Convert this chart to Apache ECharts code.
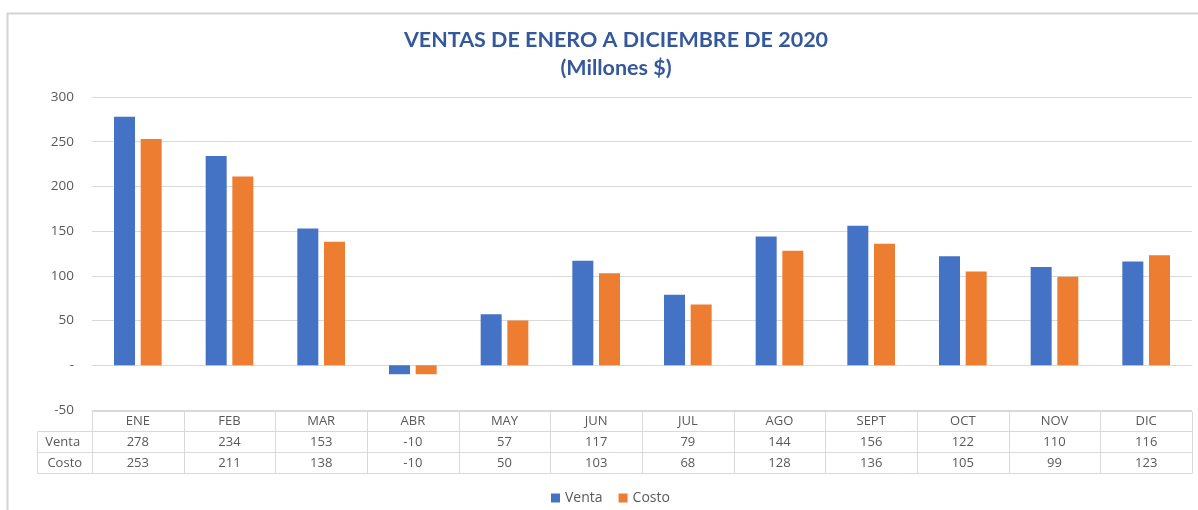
<!DOCTYPE html>
<html>
<head>
<meta charset="utf-8">
<script src="https://cdn.jsdelivr.net/npm/echarts@6/dist/echarts.min.js"></script>
<style>
html, body { margin: 0; padding: 0; background: #fff; }
#chart { width: 1198px; height: 510px; }
</style>
</head>
<body>
<div id="chart"></div>
<script>
// datos
const meses = ['ENE', 'FEB', 'MAR', 'ABR', 'MAY', 'JUN', 'JUL', 'AGO', 'SEPT', 'OCT', 'NOV', 'DIC'];
const venta = [278, 234, 153, -10, 57, 117, 79, 144, 156, 122, 110, 116];
const costo = [253, 211, 138, -10, 50, 103, 68, 128, 136, 105, 99, 123];
const serieNombres = ['Venta', 'Costo'];

(function() {
    let chartDom = document.getElementById('chart');
    let myChart = echarts.init(chartDom);
    let lineColor = '#d9d9d9';
    let textColor = '#595959';
    let font = '"Open Sans", sans-serif';

    let option = {
        animation: false,
        color: ['#4472c4', '#ed7d31'],
        title: {
            text: 'VENTAS DE ENERO A DICIEMBRE DE 2020\n(Millones $)',
            left: 611,
            textAlign: 'center',
            top: 21,
            textStyle: {
                fontFamily: 'Lato, sans-serif',
                fontWeight: 'bold',
                fontSize: 21.5,
                lineHeight: 28,
                color: '#34589e'
            }
        },
        legend: {
            data: serieNombres,
            top: 486,
            left: 546,
            icon: 'rect',
            itemWidth: 9,
            itemHeight: 9,
            itemGap: 16,
            textStyle: { fontFamily: font, fontSize: 14, color: textColor }
        },
        grid: {
            left: 92,
            right: 6,
            top: 97,
            bottom: 100
        },
        xAxis: {
            type: 'category',
            data: meses,
            axisLine: { show: true, onZero: true, lineStyle: { color: lineColor } },
            axisTick: { show: false },
            axisLabel: { show: false }
        },
        yAxis: {
            type: 'value',
            min: -50,
            max: 300,
            interval: 50,
            axisLine: { show: false },
            axisTick: { show: false },
            splitLine: { lineStyle: { color: lineColor } },
            axisLabel: {
                margin: 18,
                fontFamily: font,
                fontSize: 13.5,
                color: textColor,
                formatter: function(v) { return v === 0 ? '-' : v; }
            }
        },
        series: [{
                name: serieNombres[0],
                type: 'bar',
                data: venta,
                barWidth: 21,
                barGap: '27%'
            },
            {
                name: serieNombres[1],
                type: 'bar',
                data: costo,
                barWidth: 21
            }
        ]
    };
    myChart.setOption(option);

    // tabla de datos debajo del grafico
    let centros = meses.map(function(m, i) { return myChart.convertToPixel({ xAxisIndex: 0 }, i); });
    let paso = centros[1] - centros[0];
    let bordes = centros.map(function(c) { return c - paso / 2; });
    bordes.push(centros[centros.length - 1] + paso / 2);
    let izq = bordes[0];
    let der = bordes[bordes.length - 1];
    let y0 = Math.round(myChart.convertToPixel({ yAxisIndex: 0 }, -50)) + 1.5;
    let filas = [y0, y0 + 20, y0 + 41, y0 + 62];
    let etiquetaX = 37.5;

    let graphic = [];
    let linea = function(x1, y1, x2, y2) {
        graphic.push({
            type: 'line',
            silent: true,
            shape: { x1: x1, y1: y1, x2: x2, y2: y2 },
            style: { stroke: lineColor, lineWidth: 1 }
        });
    };
    let texto = function(t, x, y) {
        graphic.push({
            type: 'text',
            silent: true,
            x: x,
            y: y,
            style: {
                text: String(t),
                fill: textColor,
                font: '13px ' + font,
                align: 'center',
                verticalAlign: 'middle'
            }
        });
    };

    // marco exterior
    graphic.push({
        type: 'rect',
        silent: true,
        shape: { x: 7.5, y: 13.5, width: 1300, height: 600 },
        style: { fill: null, stroke: '#d4d4d4', lineWidth: 2 }
    });

    linea(izq, filas[0], der, filas[0]);
    linea(etiquetaX, filas[1], der, filas[1]);
    linea(etiquetaX, filas[2], der, filas[2]);
    linea(etiquetaX, filas[3], der, filas[3]);
    linea(etiquetaX, filas[1], etiquetaX, filas[3]);
    bordes.forEach(function(b) { linea(Math.round(b) + 0.5, filas[0], Math.round(b) + 0.5, filas[3]); });

    meses.forEach(function(m, i) {
        texto(m, centros[i], (filas[0] + filas[1]) / 2);
        texto(venta[i], centros[i], (filas[1] + filas[2]) / 2);
        texto(costo[i], centros[i], (filas[2] + filas[3]) / 2);
    });
    texto(serieNombres[0], (etiquetaX + izq) / 2 - 2, (filas[1] + filas[2]) / 2);
    texto(serieNombres[1], (etiquetaX + izq) / 2, (filas[2] + filas[3]) / 2);

    myChart.setOption({ graphic: graphic });

    window.addEventListener('resize', function() {
        myChart.resize();
    });
})();
</script>
</body>
</html>
